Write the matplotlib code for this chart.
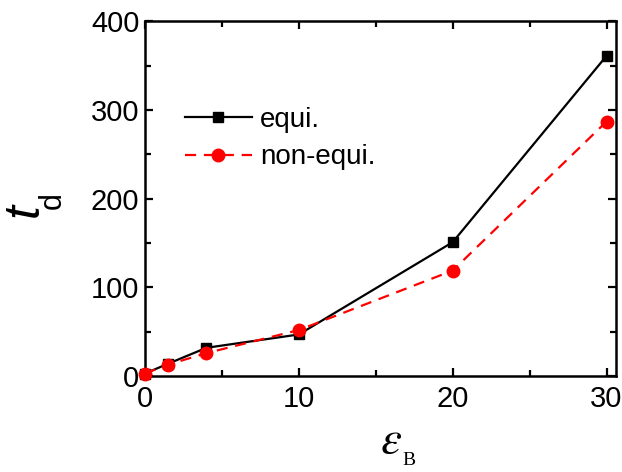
import matplotlib
matplotlib.use("Agg")
import matplotlib.pyplot as plt
from matplotlib.ticker import MultipleLocator

plt.rcParams['font.family'] = ['Liberation Sans', 'DejaVu Sans']

# data
eps_equi = [0, 1.5, 4, 10, 20, 30]
td_equi = [3, 14, 32, 47, 151, 361]
eps_non = [0, 1.5, 4, 10, 20, 30]
td_non = [3, 13, 26, 52, 119, 287]

fig, ax = plt.subplots(figsize=(6.22, 4.72), dpi=100)
fig.subplots_adjust(left=0.233, right=0.99, top=0.955, bottom=0.203)

ax.plot(eps_equi, td_equi, color="k", lw=1.6, marker="s", ms=7.5, label="equi.", clip_on=False, zorder=3)
ax.plot(eps_non, td_non, color="#ff0000", lw=1.6, ls=(0, (5, 3.5)), marker="o", ms=9,
        label="non-equi.", clip_on=False, zorder=4)

ax.set_xlim(0, 30.6)
ax.set_ylim(0, 400)
ax.xaxis.set_major_locator(MultipleLocator(10))
ax.xaxis.set_minor_locator(MultipleLocator(5))
ax.yaxis.set_major_locator(MultipleLocator(100))
ax.yaxis.set_minor_locator(MultipleLocator(50))
ax.tick_params(which="both", direction="in", top=True, right=True, width=1.6, labelsize=21)
ax.tick_params(which="major", length=6)
ax.tick_params(axis="x", which="major", pad=6)
ax.tick_params(axis="y", which="major", pad=4)
ax.tick_params(which="minor", length=4)
for s in ax.spines.values():
    s.set_linewidth(1.8)

# y label: italic t with a lowered subscript d (rotated)
fig.text(0.040, 0.555, "t", fontsize=36, style="italic", rotation=90, ha="center", va="center")
fig.text(0.085, 0.575, "d", fontsize=22, rotation=90, ha="center", va="center")
# x label: epsilon with a lowered subscript B, Times-like
fig.text(0.629, 0.066, r"$\varepsilon$", fontsize=34, math_fontfamily="stix", ha="center", va="center")
fig.text(0.657, 0.024, "B", fontsize=14, family=["Liberation Serif", "DejaVu Serif"], ha="center", va="center")

ax.legend(loc="upper left", bbox_to_anchor=(0.085, 0.758), frameon=False, fontsize=20,
          borderpad=0, borderaxespad=0,
          handlelength=2.4, handletextpad=0.3, labelspacing=0.4)

fig.savefig("out.png", dpi=100)
